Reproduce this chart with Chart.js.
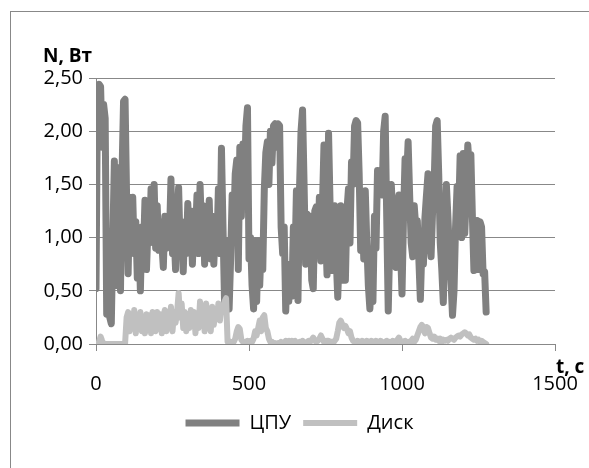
<!DOCTYPE html>
<html>
<head>
<meta charset="utf-8">
<script src="https://cdn.jsdelivr.net/npm/chart.js@4.4.0/dist/chart.umd.min.js"></script>
<style>
  html, body { margin: 0; padding: 0; background: #fff; overflow: hidden; }
  #wrap { position: relative; width: 589px; height: 468px; overflow: hidden; }
  #frame { position: absolute; left: 10px; top: 11px; width: 620px; height: 500px; border: 1px solid #888; }
  canvas { position: absolute; left: 0; top: 0; }
</style>
</head>
<body>
<div id="wrap">
  <div id="frame"></div>
  <canvas id="powerChart" width="589" height="468"></canvas>
</div>
<script>
// Шаг по времени между отсчётами, с
const timeStep = 5;

// Мощность ЦПУ, Вт (отсчёты через 5 с, от 0 до 1275 с)
const cpuPower = [
  0.52, 2.40, 2.44, 2.42, 1.85, 2.25, 2.12, 0.28, 0.97, 0.25, 0.19, 0.98, 1.72, 0.55, 1.00, 1.66, 0.50, 1.60, 2.28, 2.30,
  1.38, 0.66, 1.38, 1.00, 1.38, 0.85, 1.15, 0.62, 1.05, 0.50, 1.10, 0.85, 1.35, 0.70, 1.10, 0.95, 1.46, 1.00, 1.50, 0.90,
  1.30, 0.88, 1.15, 0.95, 0.72, 1.20, 0.90, 1.10, 1.00, 1.55, 0.85, 1.05, 0.70, 1.20, 1.47, 0.90, 1.15, 0.68, 1.10, 0.85,
  1.32, 0.95, 1.25, 0.75, 1.15, 1.00, 1.40, 0.85, 1.50, 1.05, 1.30, 0.75, 1.15, 0.95, 1.35, 0.80, 1.20, 0.75, 1.10, 0.90,
  1.46, 0.85, 1.84, 1.10, 0.40, 0.37, 0.97, 0.33, 0.80, 1.40, 1.10, 1.60, 1.73, 0.70, 1.85, 1.20, 1.88, 1.50, 2.05, 2.22,
  0.80, 1.00, 0.55, 0.33, 0.97, 0.40, 0.97, 0.55, 0.95, 0.70, 1.45, 1.80, 1.90, 1.50, 2.00, 1.70, 2.05, 2.07, 1.85, 2.07,
  2.05, 1.10, 0.85, 1.10, 0.31, 0.75, 0.40, 0.70, 0.45, 1.10, 0.75, 1.44, 0.41, 1.45, 2.00, 2.20, 1.50, 0.75, 1.22, 0.90,
  1.20, 0.60, 0.52, 1.25, 1.29, 0.85, 1.38, 0.78, 1.30, 1.87, 1.10, 0.65, 1.98, 1.30, 0.69, 1.10, 1.30, 0.80, 0.44, 0.85,
  1.30, 0.60, 1.20, 0.60, 1.25, 1.46, 0.95, 1.71, 1.50, 2.05, 2.10, 2.08, 1.60, 0.88, 1.30, 0.80, 1.44, 0.95, 0.55, 0.33,
  0.60, 0.40, 1.20, 0.90, 1.63, 1.45, 1.63, 1.40, 2.00, 2.14, 1.20, 0.31, 0.95, 1.50, 1.20, 1.05, 0.72, 1.30, 1.40, 0.90,
  0.47, 1.20, 1.74, 1.55, 1.90, 1.40, 0.95, 0.82, 1.30, 1.10, 1.16, 0.80, 0.42, 0.90, 0.75, 1.19, 1.40, 1.60, 1.00, 0.82,
  1.25, 1.50, 2.05, 2.10, 1.60, 0.95, 0.70, 0.39, 0.95, 1.50, 1.20, 0.85, 0.60, 0.27, 0.50, 1.10, 1.48, 1.20, 1.77, 1.00,
  1.79, 1.04, 1.40, 1.87, 1.65, 1.78, 1.20, 0.69, 1.00, 1.16, 0.70, 1.15, 1.10, 0.66, 0.68, 0.30
];

// Мощность диска, Вт (те же отсчёты)
const diskPower = [
  0.00, 0.00, 0.02, 0.07, 0.03, 0.00, 0.00, 0.00, 0.00, 0.00, 0.00, 0.00, 0.00, 0.00, 0.00, 0.00, 0.00, 0.00, 0.00, 0.00,
  0.25, 0.30, 0.12, 0.28, 0.15, 0.32, 0.10, 0.26, 0.18, 0.30, 0.12, 0.25, 0.10, 0.28, 0.15, 0.27, 0.10, 0.30, 0.20, 0.12,
  0.30, 0.15, 0.28, 0.10, 0.25, 0.32, 0.12, 0.30, 0.18, 0.35, 0.12, 0.30, 0.20, 0.30, 0.48, 0.25, 0.38, 0.15, 0.30, 0.12,
  0.28, 0.15, 0.32, 0.18, 0.30, 0.10, 0.28, 0.15, 0.40, 0.22, 0.30, 0.12, 0.38, 0.20, 0.30, 0.12, 0.35, 0.18, 0.33, 0.25,
  0.38, 0.22, 0.36, 0.30, 0.40, 0.43, 0.02, 0.00, 0.02, 0.00, 0.02, 0.05, 0.12, 0.16, 0.14, 0.04, 0.02, 0.00, 0.02, 0.03,
  0.02, 0.03, 0.02, 0.05, 0.12, 0.08, 0.15, 0.22, 0.12, 0.25, 0.27, 0.15, 0.12, 0.05, 0.02, 0.02, 0.00, 0.01, 0.00, 0.01,
  0.00, 0.02, 0.00, 0.00, 0.03, 0.02, 0.03, 0.00, 0.03, 0.02, 0.03, 0.00, 0.01, 0.02, 0.00, 0.03, 0.01, 0.00, 0.02, 0.03,
  0.02, 0.04, 0.06, 0.03, 0.02, 0.03, 0.05, 0.08, 0.05, 0.02, 0.01, 0.03, 0.03, 0.02, 0.02, 0.01, 0.03, 0.05, 0.12, 0.20,
  0.22, 0.18, 0.15, 0.17, 0.14, 0.10, 0.12, 0.06, 0.03, 0.02, 0.01, 0.03, 0.02, 0.01, 0.03, 0.02, 0.01, 0.03, 0.02, 0.01,
  0.03, 0.02, 0.01, 0.03, 0.02, 0.01, 0.03, 0.02, 0.00, 0.02, 0.03, 0.01, 0.02, 0.01, 0.03, 0.02, 0.01, 0.04, 0.06, 0.03,
  0.01, 0.02, 0.03, 0.01, 0.02, 0.01, 0.03, 0.05, 0.02, 0.04, 0.08, 0.12, 0.16, 0.18, 0.14, 0.10, 0.16, 0.15, 0.10, 0.06,
  0.05, 0.07, 0.04, 0.05, 0.03, 0.05, 0.02, 0.04, 0.03, 0.04, 0.03, 0.05, 0.06, 0.05, 0.04, 0.06, 0.07, 0.08, 0.07, 0.09,
  0.10, 0.11, 0.10, 0.08, 0.09, 0.06, 0.05, 0.04, 0.05, 0.03, 0.04, 0.02, 0.03, 0.02, 0.01, 0.00
];

// Подписи осей
const yTitle = 'N, Вт';
const xTitle = 't, c';

const textFont = { family: '"Open Sans", sans-serif', size: 20 };
const titleFont = 'bold 19px "Open Sans", sans-serif';

// Пары (время, мощность) для линейной оси X
const toPoints = values => values.map((v, i) => ({ x: i * timeStep, y: v }));

// Плагин для подписей осей (как в Excel: сверху слева и справа у оси)
const axisTitles = {
  id: 'axisTitles',
  afterDraw(chart) {
    const c = chart.ctx;
    const area = chart.chartArea;
    c.save();
    c.fillStyle = '#000';
    c.font = titleFont;
    c.textBaseline = 'middle';
    c.textAlign = 'left';
    c.fillText(yTitle, area.left - 53, area.top - 21);
    c.fillText(xTitle, area.right + 1, area.bottom + 24);
    c.restore();
  }
};

const ctx = document.getElementById('powerChart').getContext('2d');

const powerChart = new Chart(ctx, {
  type: 'line',
  data: {
    datasets: [{
      label: 'ЦПУ',
      data: toPoints(cpuPower),
      borderColor: '#808080',
      backgroundColor: '#808080',
      borderWidth: 7,
      pointRadius: 0,
      borderCapStyle: 'round',
      borderJoinStyle: 'round',
      order: 1
    }, {
      label: 'Диск',
      data: toPoints(diskPower),
      borderColor: '#c0c0c0',
      backgroundColor: '#c0c0c0',
      borderWidth: 6,
      pointRadius: 0,
      borderCapStyle: 'round',
      borderJoinStyle: 'round',
      order: 0
    }]
  },
  options: {
    responsive: false,
    animation: false,
    layout: { padding: { top: 78, right: 34, bottom: 25, left: 44 } },
    scales: {
      x: {
        type: 'linear',
        min: 0,
        max: 1500,
        ticks: {
          stepSize: 500,
          color: '#000',
          font: textFont,
          padding: 21,
          maxRotation: 0,
          callback: v => String(v)
        },
        grid: { drawOnChartArea: false, tickLength: 7, color: '#888' },
        border: { color: '#888' },
        afterFit: scale => {
          scale.height = 57;
          scale.paddingLeft = 0;
          scale.paddingRight = 0;
        }
      },
      y: {
        min: 0,
        max: 2.5,
        ticks: {
          stepSize: 0.5,
          color: '#000',
          font: textFont,
          padding: 6,
          callback: v => v.toFixed(2).replace('.', ',')
        },
        grid: { color: '#888', tickLength: 7 },
        border: { color: '#888' },
        afterFit: scale => { scale.width = 52; }
      }
    },
    plugins: {
      legend: {
        position: 'bottom',
        labels: {
          usePointStyle: true,
          pointStyle: 'line',
          pointStyleWidth: 54,
          color: '#000',
          font: textFont,
          padding: 12,
          sort: (a, b) => a.datasetIndex - b.datasetIndex
        }
      },
      tooltip: { enabled: false }
    }
  },
  plugins: [axisTitles]
});
</script>
</body>
</html>
